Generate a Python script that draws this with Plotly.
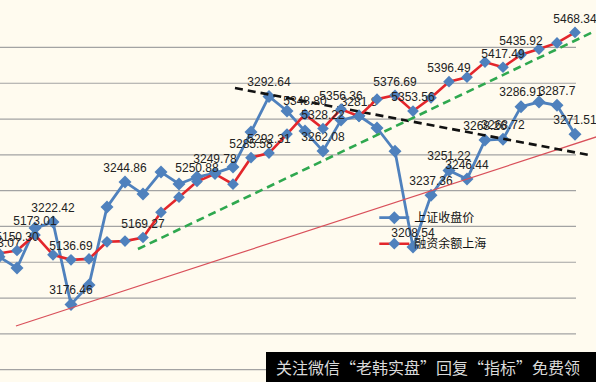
import plotly.graph_objects as go

# ---- data ----
days = list(range(33))  # trading-day index

sh_close = [3203.07, 3196.8, 3219.1, 3222.42, 3176.46, 3187.3, 3230.8, 3244.86, 3238.1,
            3250.4, 3243.7, 3247.6, 3249.78, 3253.2, 3272.7, 3292.64, 3284.5, 3273.3,
            3262.08, 3279.4, 3281.8, 3275.0, 3262.0, 3208.54, 3237.36, 3251.22, 3246.44,
            3268.26, 3268.72, 3286.91, 3289.5, 3287.7, 3271.51]

margin_sh = [5146.0, 5150.30, 5173.01, 5144.0, 5136.69, 5138.0, 5163.0, 5164.0, 5169.27,
             5206.0, 5228.0, 5250.88, 5262.0, 5247.0, 5285.58, 5292.31, 5320.0, 5348.80,
             5328.22, 5356.36, 5346.0, 5371.0, 5376.69, 5353.56, 5373.0, 5396.49, 5403.0,
             5425.0, 5417.49, 5435.92, 5444.0, 5453.0, 5468.34]

# data labels as printed in the source (by index)
sh_labels = {0: "3203.07", 3: "3222.42", 4: "3176.46", 7: "3244.86", 12: "3249.78",
             15: "3292.64", 18: "3262.08", 20: "3281.8", 23: "3208.54", 24: "3237.36",
             25: "3251.22", 26: "3246.44", 27: "3268.26", 28: "3268.72", 29: "3286.91",
             31: "3287.7", 32: "3271.51"}
margin_labels = {1: "5150.30", 2: "5173.01", 4: "5136.69", 8: "5169.27", 11: "5250.88",
                 14: "5285.58", 15: "5292.31", 17: "5348.80", 18: "5328.22", 19: "5356.36",
                 22: "5376.69", 23: "5353.56", 25: "5396.49", 28: "5417.49", 29: "5435.92",
                 32: "5468.34"}

series_names = ["上证收盘价", "融资余额上海"]

# hand-drawn trend lines (endpoints in day-index / index-value units)
support_x = [0.94, 33.3]
support_y = [3164.4, 3270.4]
resist_x = [13.11, 32.78]
resist_y = [3297.3, 3259.9]
channel_x = [7.72, 33.0]
channel_y = [3207.4, 3328.6]

grid_values = [3140, 3160, 3180, 3200, 3220, 3240, 3260, 3280, 3300, 3320]

watermark = "关注微信“老韩实盘”回复“指标”免费领"

# ---- styling ----
BLUE = "#4F81BD"
RED = "#E3262B"
BG = "#FFFBEF"
LABEL_FONT = dict(family="Liberation Sans Narrow, Arial Narrow, Liberation Sans, Arial",
                  size=12, color="#222222")

sh_text = [sh_labels.get(i, "") for i in days]
margin_text = [margin_labels.get(i, "") for i in days]

fig = go.Figure()

fig.add_trace(go.Scatter(
    x=days, y=sh_close, name=series_names[0], yaxis="y",
    mode="lines+markers+text", text=sh_text, textposition="top center",
    textfont=LABEL_FONT,
    line=dict(color=BLUE, width=2.8),
    marker=dict(symbol="diamond", size=10, color=BLUE),
    legendgroup="a",
))

fig.add_trace(go.Scatter(
    x=days, y=margin_sh, name=series_names[1], yaxis="y2",
    mode="lines+markers+text", text=margin_text, textposition="top center",
    textfont=LABEL_FONT,
    line=dict(color=RED, width=2.6),
    marker=dict(symbol="diamond", size=9, color=BLUE),
    legendgroup="b",
))

for xs, ys, col, w, dash in [
    (support_x, support_y, "#D9505A", 1.2, "solid"),
    (resist_x, resist_y, "#111111", 2.6, "8px,5px"),
    (channel_x, channel_y, "#2FA84F", 2.6, "8px,5px"),
]:
    fig.add_trace(go.Scatter(
        x=xs, y=ys, mode="lines", yaxis="y", showlegend=False, hoverinfo="skip",
        line=dict(color=col, width=w, dash=dash),
    ))

shapes = [dict(type="line", xref="paper", yref="y", x0=0, x1=576 / 596, y0=g, y1=g,
               line=dict(color="#A3A3A3", width=1.2), layer="below") for g in grid_values]
# black watermark banner
shapes.append(dict(type="rect", xref="paper", yref="paper", x0=266 / 596, x1=1,
                   y0=0, y1=30 / 382, fillcolor="#000000", line=dict(width=0),
                   layer="above"))

fig.update_layout(
    width=596, height=382,
    margin=dict(l=0, r=0, t=0, b=0),
    paper_bgcolor=BG, plot_bgcolor=BG,
    showlegend=True,
    legend=dict(x=0.628, y=0.468, xanchor="left", yanchor="top",
                bgcolor="rgba(0,0,0,0)", traceorder="grouped", tracegroupgap=7,
                font=dict(family="Noto Sans CJK SC", size=12, color="#111111")),
    xaxis=dict(range=[1 / 18, 597 / 18], showgrid=False, zeroline=False,
               showticklabels=False, showline=False),
    yaxis=dict(range=[3133.1, 3346.5], showgrid=False, zeroline=False,
               showticklabels=False, showline=False),
    yaxis2=dict(range=[4958.5, 5515.6], overlaying="y", side="right", showgrid=False,
                zeroline=False, showticklabels=False, showline=False),
    shapes=shapes,
    annotations=[dict(xref="paper", yref="paper", x=274 / 596, y=15 / 382,
                      xanchor="left", yanchor="middle",
                      text=watermark, showarrow=False,
                      font=dict(family="Noto Sans CJK SC", size=16, color="#DADADA"))],
)

fig.write_html("out.html", config={"displayModeBar": False},
               post_script="document.body.style.margin='0';")
